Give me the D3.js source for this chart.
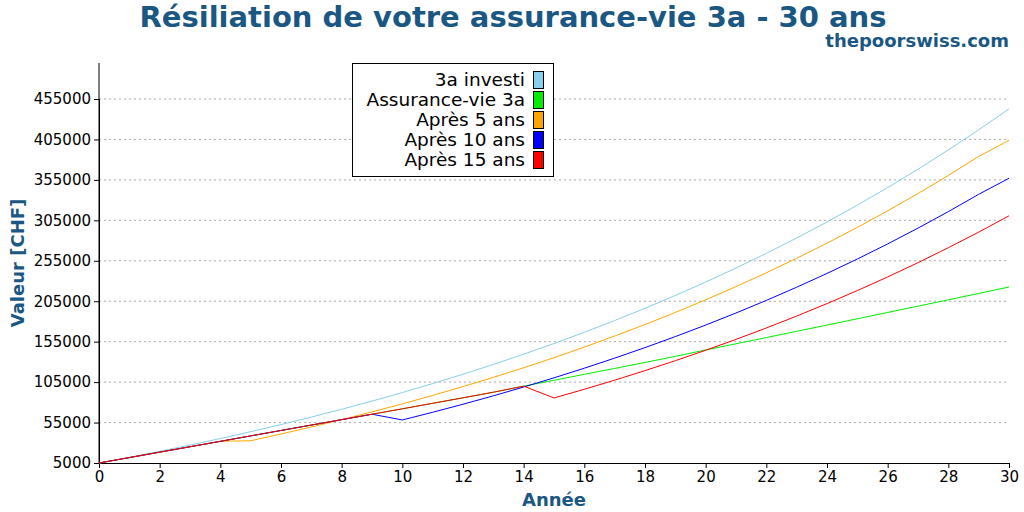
<!DOCTYPE html>
<html><head><meta charset="utf-8">
<script src="https://cdn.jsdelivr.net/npm/d3@7"></script>
<style>body{margin:0;background:#fff;font-family:"DejaVu Sans",sans-serif}</style>
</head><body><svg id="c" width="1024" height="512"></svg>
<script>
var years = d3.range(0, 31);
var invested = [5000,12056,19437,27157,35232,43679,52514,61756,71423,81534,92111,103174,114746,126850,139511,152755,166608,181098,196254,212108,228691,246037,264181,283159,303010,323774,345494,368213,391977,416834,442834];
var insurance = [5000,11700,18400,25100,31800,38500,45200,51900,58600,65300,72000,78800,85600,92500,100000,107300,114600,121900,129300,136800,144700,152400,160100,167800,175500,183300,191100,198900,206700,214600,222600];
var after5 = [5000,11700,18400,25100,31800,32500,40821,49525,58629,68152,78113,88532,99430,110830,122754,135227,148273,161920,176194,191125,206743,223079,240167,258041,276737,296293,316748,338144,360525,383935,404000];
var after10 = [5000,11700,18400,25100,31800,38500,45200,51900,58600,65300,58200,67703,77643,88041,98917,110293,122192,134639,147658,161276,175521,190421,206006,222308,239360,257197,275854,295369,315782,337134,357000];
var after15 = [5000,11700,18400,25100,31800,38500,45200,51900,58600,65300,72000,78800,85600,92500,100000,85400,96154,107403,119170,131478,144352,157818,171904,186638,202049,218169,235031,252668,271117,290414,310599];
var seriesNames = ["3a investi","Assurance-vie 3a","Après 5 ans","Après 10 ans","Après 15 ans"];
var seriesColors = ["#87ceeb","#00ee00","#ffa500","#0000ff","#ff0000"];
var seriesData = [invested, insurance, after5, after10, after15];
var yTicks = d3.range(5000, 455001, 50000);

var svg = d3.select("#c");
var x = d3.scaleLinear().domain([0,30]).range([99,1009]);
var y = d3.scaleLinear().domain([5000,455000]).range([463,99]);
var blue = "#1a5782";

svg.append("text").attr("x",513).attr("y",27).attr("text-anchor","middle")
  .attr("font-size",29).attr("font-weight","bold").attr("fill",blue)
  .text("Résiliation de votre assurance-vie 3a - 30 ans");
svg.append("text").attr("x",1009).attr("y",47).attr("text-anchor","end")
  .attr("font-size",18).attr("font-weight","bold").attr("fill",blue).text("thepoorswiss.com");

// grid
svg.append("g").selectAll("line").data(yTicks.slice(1)).enter().append("line")
  .attr("x1",99).attr("x2",1009).attr("y1",d=>y(d)).attr("y2",d=>y(d))
  .attr("stroke","#aaa").attr("stroke-dasharray","2,3");

svg.append("g").attr("transform","translate(0,463)")
  .call(d3.axisBottom(x).tickValues(d3.range(0,31,2)).tickSize(5))
  .attr("font-size",15).attr("font-family","DejaVu Sans");
svg.append("g").attr("transform","translate(99,0)")
  .call(d3.axisLeft(y).tickValues(yTicks).tickSize(5).tickFormat(d3.format("d")))
  .attr("font-size",15).attr("font-family","DejaVu Sans");
svg.append("line").attr("x1",99).attr("x2",99).attr("y1",63).attr("y2",463).attr("stroke","#000");

svg.append("text").attr("x",554).attr("y",506).attr("text-anchor","middle")
  .attr("font-size",18).attr("font-weight","bold").attr("fill",blue).text("Année");
svg.append("text").attr("transform","translate(24,263) rotate(-90)").attr("text-anchor","middle")
  .attr("font-size",18).attr("font-weight","bold").attr("fill",blue).text("Valeur [CHF]");

var line = d3.line().x((d,i)=>x(years[i])).y(d=>y(d));
seriesData.forEach(function(s,k){
  svg.append("path").attr("d",line(s)).attr("fill","none")
    .attr("stroke",seriesColors[k]).attr("stroke-width",1);
});

var lg = svg.append("g");
lg.append("rect").attr("x",352.5).attr("y",63.5).attr("width",201).attr("height",113)
  .attr("fill","#fff").attr("stroke","#000");
seriesNames.forEach(function(n,k){
  var yy = 80 + k*20;
  lg.append("text").attr("x",525).attr("y",yy+6).attr("text-anchor","end")
    .attr("font-size",18.5).text(n);
  lg.append("rect").attr("x",533.5).attr("y",yy-8.5).attr("width",10).attr("height",17)
    .attr("fill",seriesColors[k]).attr("stroke","#000");
});
</script></body></html>
